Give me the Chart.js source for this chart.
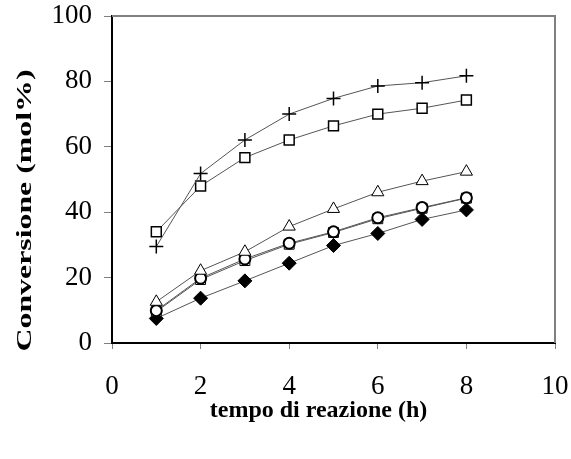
<!DOCTYPE html>
<html>
<head>
<meta charset="utf-8">
<script src="https://cdn.jsdelivr.net/npm/chart.js@4"></script>
<style>
html, body { margin: 0; padding: 0; background: #fff; }
</style>
</head>
<body>
<canvas id="myChart" width="571" height="459"></canvas>
<script>
/* DATA */

var hours = [1, 2, 3, 4, 5, 6, 7, 8];
var plusData = [29.5, 51.8, 62.1, 70, 74.8, 78.6, 79.6, 81.7];
var squareData = [34, 48, 56.7, 62.1, 66.4, 70, 71.8, 74.3];
var triangleData = [12.6, 22.1, 27.9, 35.6, 41, 46.1, 49.5, 52.4];
var circleData = [9.9, 19.8, 25.7, 30.5, 34, 38.3, 41.4, 44.4];
var dottedSquareData = [9.6, 19.4, 25.2, 30.2, 33.8, 38, 41.2, 44.3];
var diamondData = [7.5, 13.7, 19, 24.4, 29.8, 33.5, 37.8, 40.7];
var xTicks = [0, 2, 4, 6, 8, 10];
var yTicks = [0, 20, 40, 60, 80, 100];
var xTitle = 'tempo di reazione (h)';
var yTitle = 'Conversione (mol%)';

function points(values) {
  return hours.map(function(h, i) { return { x: h, y: values[i] }; });
}

var serif = '"Liberation Serif", "Times New Roman", serif';

/* FRAME + AXIS TITLES */

var frameAndTitles = {
  id: 'frameAndTitles',
  beforeDatasetsDraw: function(chart) {
    var ctx = chart.ctx, a = chart.chartArea;
    ctx.save();
    ctx.strokeStyle = '#808080';
    ctx.lineWidth = 2;
    ctx.beginPath();
    ctx.moveTo(a.left, a.top);
    ctx.lineTo(a.right, a.top);
    ctx.lineTo(a.right, a.bottom);
    ctx.stroke();
    ctx.restore();
  },
  afterDraw: function(chart) {
    var ctx = chart.ctx, a = chart.chartArea;
    ctx.save();
    ctx.fillStyle = '#000';
    ctx.textAlign = 'center';
    ctx.textBaseline = 'middle';
    ctx.font = 'bold 24px ' + serif;
    ctx.fillText(xTitle, (a.left + a.right) / 2 - 15, chart.height - 48);
    // y title is drawn a bit stretched along its length, like the original
    ctx.translate(26, (a.top + a.bottom) / 2 + 31);
    ctx.rotate(-Math.PI / 2);
    ctx.font = 'bold 21px ' + serif;
    var w = ctx.measureText(yTitle).width;
    ctx.scale(282 / w, 1);
    ctx.fillText(yTitle, 0, 0);
    ctx.restore();
  }
};

/* CHART */

var ctx = document.getElementById('myChart').getContext('2d');

function series(label, values, style, radius, fill, borderW) {
  return {
    label: label,
    data: points(values),
    borderColor: '#555',
    borderWidth: 1,
    pointStyle: style,
    pointRadius: radius,
    pointHoverRadius: radius,
    pointBorderColor: '#000',
    pointBackgroundColor: fill,
    pointBorderWidth: borderW,
    fill: false,
    tension: 0
  };
}

var chart = new Chart(ctx, {
  type: 'line',
  data: {
    datasets: [
      series('+', plusData, 'cross', 7, '#fff', 1.5),
      series('quadrati', squareData, 'rect', 7, '#fff', 1.5),
      series('triangoli', triangleData, 'triangle', 7, '#fff', 1),
      series('cerchi', circleData, 'circle', 5.5, '#fff', 2),
      series('quadrati 2', dottedSquareData, 'rect', 7, '#fff', 1),
      series('rombi', diamondData, 'rectRot', 7, '#000', 1)
    ]
  },
  plugins: [frameAndTitles],
  options: {
    responsive: false,
    animation: false,
    layout: { padding: { top: 16, right: 16, left: 0, bottom: 0 } },
    plugins: {
      legend: { display: false },
      tooltip: { enabled: false }
    },
    scales: {
      x: {
        type: 'linear',
        min: 0,
        max: 10,
        afterBuildTicks: function(scale) {
          scale.ticks = xTicks.map(function(v) { return { value: v }; });
        },
        afterFit: function(scale) {
          scale.height = 116;
          scale.paddingLeft = 0;
          scale.paddingRight = 0;
        },
        grid: { drawOnChartArea: false, drawTicks: true, tickLength: 6, color: '#808080' },
        border: { display: true, color: '#000', width: 2 },
        ticks: { color: '#000', padding: 22, font: { family: serif, size: 27 } }
      },
      y: {
        min: 0,
        max: 100,
        afterBuildTicks: function(scale) {
          scale.ticks = yTicks.map(function(v) { return { value: v }; });
        },
        afterFit: function(scale) {
          scale.width = 112;
          scale.paddingTop = 0;
          scale.paddingBottom = 0;
        },
        grid: { drawOnChartArea: false, drawTicks: true, tickLength: 8, color: '#808080' },
        border: { display: true, color: '#000', width: 2 },
        ticks: { color: '#000', padding: 12, font: { family: serif, size: 27 } }
      }
    }
  }
});
</script>
</body>
</html>
